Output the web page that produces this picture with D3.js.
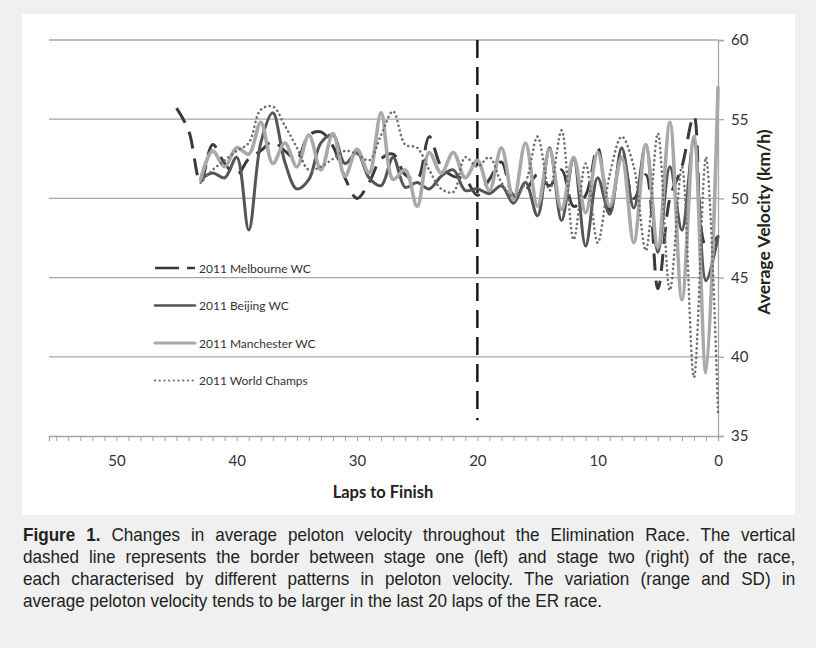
<!DOCTYPE html>
<html>
<head>
<meta charset="utf-8">
<script src="https://cdn.jsdelivr.net/npm/d3@7"></script>
<style>
  body { margin: 0; background: #f0f0f0; }
  #panel { position: absolute; left: 22px; top: 14px; width: 773px; height: 501px; background: #fff; }
  #chart { position: absolute; left: 0; top: 0; }
  .cap { position: absolute; left: 23px; width: 858px; transform: scaleX(0.9); transform-origin: 0 0;
         font-family: "Liberation Sans", Arial, sans-serif; line-height: 22px;
         font-size: 19px; color: #222; text-align: justify; text-align-last: justify; white-space: nowrap; }
  .cap.last { text-align-last: left; }
</style>
</head>
<body>
<div id="panel"></div>
<svg id="chart" width="816" height="648"></svg>
<div class="cap" style="top:524px"><b>Figure 1.</b> Changes in average peloton velocity throughout the Elimination Race. The vertical</div>
<div class="cap" style="top:546px">dashed line represents the border between stage one (left) and stage two (right) of the race,</div>
<div class="cap" style="top:568px">each characterised by different patterns in peloton velocity. The variation (range and SD) in</div>
<div class="cap last" style="top:590px">average peloton velocity tends to be larger in the last 20 laps of the ER race.</div>
<script>
// laps to finish
const lapsMelb = [45,44,43,42,41,40,39,38,37,36,35,34,33,32,31,30,29,28,27,26,25,24,23,22,21,20,19,18,17,16,15,14,13,12,11,10,9,8,7,6,5,4,3,2,1,0];
const melbourne = [55.7,54.3,51.0,53.4,52.2,51.5,52.5,53.0,53.6,53.0,52.5,54.0,54.2,53.3,51.3,50.0,51.0,52.5,52.8,51.5,51.2,53.9,52.0,51.4,51.2,50.2,51.2,52.3,50.2,50.5,51.5,50.8,51.8,49.5,50.2,53.2,49.2,52.6,50.0,51.5,44.3,50.0,52.0,55.2,47.0,47.6];

const laps = [43,42,41,40,39,38,37,36,35,34,33,32,31,30,29,28,27,26,25,24,23,22,21,20,19,18,17,16,15,14,13,12,11,10,9,8,7,6,5,4,3,2,1,0];
const beijing = [51.2,51.6,51.3,52.6,48.0,53.5,55.4,52.3,50.6,51.2,53.5,54.0,52.2,52.9,51.3,50.8,52.6,50.7,51.0,50.6,51.4,51.8,50.5,50.6,50.3,50.8,49.7,51.0,48.9,53.2,48.6,52.5,47.0,51.3,49.0,53.2,49.4,53.4,46.6,52.0,48.0,53.7,44.8,47.6];
const manchester = [51.2,53.0,52.0,53.2,52.8,54.8,52.2,53.5,52.0,54.0,51.8,54.1,51.4,53.1,51.6,55.4,51.2,51.8,49.5,52.9,51.6,52.9,51.3,52.4,50.5,53.2,49.9,53.5,49.5,53.1,49.3,52.6,49.1,52.9,49.5,52.6,47.2,53.4,46.9,54.8,43.6,53.9,39.0,57.0];
const worldChamps = [51.0,51.8,52.4,53.0,53.5,55.6,55.8,54.6,53.2,51.8,52.0,52.5,53.0,52.8,52.4,54.0,55.5,53.4,53.2,51.8,50.6,50.4,52.6,52.0,52.6,51.0,50.1,51.0,53.9,50.5,54.3,47.4,52.2,47.2,51.5,53.9,52.0,46.7,54.1,44.2,52.0,38.7,52.6,36.5];

const xTicks = [50,40,30,20,10,0];
const yTicks = [35,40,45,50,55,60];
const seriesNames = ["2011 Melbourne WC","2011 Beijing WC","2011 Manchester WC","2011 World Champs"];

const svg = d3.select("#chart");
const x = d3.scaleLinear().domain([55.6, 0]).range([49, 718]);
const y = d3.scaleLinear().domain([35, 60]).range([436, 40]);

// gridlines
svg.append("g").selectAll("line").data(yTicks.filter(d => d > 35)).enter().append("line")
    .attr("x1", x(55.6)).attr("x2", x(0))
    .attr("y1", d => y(d)).attr("y2", d => y(d))
    .attr("stroke", "#a6a6a6").attr("stroke-width", 1.3);

// right axis
const yAxis = svg.append("g").attr("transform", "translate(" + x(0) + ",0)")
    .call(d3.axisRight(y).tickValues(yTicks).tickSize(6).tickPadding(7));
yAxis.select(".domain").attr("stroke", "#a6a6a6").attr("stroke-width", 1.3);
yAxis.selectAll(".tick line").attr("stroke", "#a6a6a6").attr("stroke-width", 1.3);
yAxis.selectAll("text").style("font-family", "Lato, 'Open Sans', sans-serif").style("font-size", "15px").attr("fill", "#333");

// bottom axis, minor ticks each lap
const xMinor = svg.append("g").attr("transform", "translate(0," + y(35) + ")")
    .call(d3.axisBottom(x).tickValues(d3.range(0, 56)).tickSize(5).tickFormat(""));
xMinor.select(".domain").attr("stroke", "#a6a6a6").attr("stroke-width", 1.3);
xMinor.selectAll(".tick line").attr("stroke", "#a6a6a6");
const xAxis = svg.append("g").attr("transform", "translate(0," + y(35) + ")")
    .call(d3.axisBottom(x).tickValues(xTicks).tickSize(0).tickPadding(19));
xAxis.select(".domain").remove();
xAxis.selectAll("text").style("font-family", "Lato, 'Open Sans', sans-serif").style("font-size", "15px").attr("fill", "#333");

// stage border
svg.append("line")
    .attr("x1", x(20)).attr("x2", x(20)).attr("y1", y(60)).attr("y2", y(36))
    .attr("stroke", "#111").attr("stroke-width", 2.4).attr("stroke-dasharray", "18,9");

const line = (xs) => d3.line()
    .x((d, i) => x(xs[i]))
    .y(d => y(d))
    .curve(d3.curveCatmullRom.alpha(0.5));

const styles = [
    { data: melbourne, xs: lapsMelb, color: "#3a3a3a", width: 3, dash: "17,10", cap: "butt" },
    { data: beijing, xs: laps, color: "#555555", width: 3, dash: null, cap: "round" },
    { data: manchester, xs: laps, color: "#a9a9a9", width: 3.6, dash: null, cap: "round" },
    { data: worldChamps, xs: laps, color: "#707070", width: 2.6, dash: "0.1,4.6", cap: "round" }
];

svg.append("g").selectAll("path").data(styles).enter().append("path")
    .attr("d", s => line(s.xs)(s.data))
    .attr("fill", "none")
    .attr("stroke", s => s.color)
    .attr("stroke-width", s => s.width)
    .attr("stroke-dasharray", s => s.dash)
    .attr("stroke-linecap", s => s.cap)
    .attr("stroke-linejoin", "round");

// legend
const legend = svg.append("g").selectAll("g").data(styles).enter().append("g")
    .attr("transform", (d, i) => "translate(155," + (268 + i * 37.5) + ")");
legend.append("line")
    .attr("x1", 0).attr("x2", 40)
    .attr("stroke", s => s.color).attr("stroke-width", s => s.width - 0.4)
    .attr("stroke-dasharray", (s, i) => i == 0 ? "24,8,10" : s.dash)
    .attr("stroke-linecap", s => s.cap);
legend.append("text")
    .text((d, i) => seriesNames[i])
    .attr("x", 44).attr("y", 4.5)
    .style("font-family", "Lato, 'Open Sans', sans-serif").style("font-size", "12px").attr("fill", "#333");

// axis titles
svg.append("text").text("Laps to Finish")
    .attr("x", 383).attr("y", 498).attr("text-anchor", "middle")
    .style("font-family", "Lato, 'Open Sans', sans-serif").style("font-size", "16.5px").style("font-weight", "bold").attr("fill", "#222");
svg.append("text").text("Average Velocity (km/h)")
    .attr("transform", "translate(770,222) rotate(-90)").attr("text-anchor", "middle")
    .style("font-family", "Lato, 'Open Sans', sans-serif").style("font-size", "17.5px").style("font-weight", "bold").attr("fill", "#222");
</script>
</body>
</html>
